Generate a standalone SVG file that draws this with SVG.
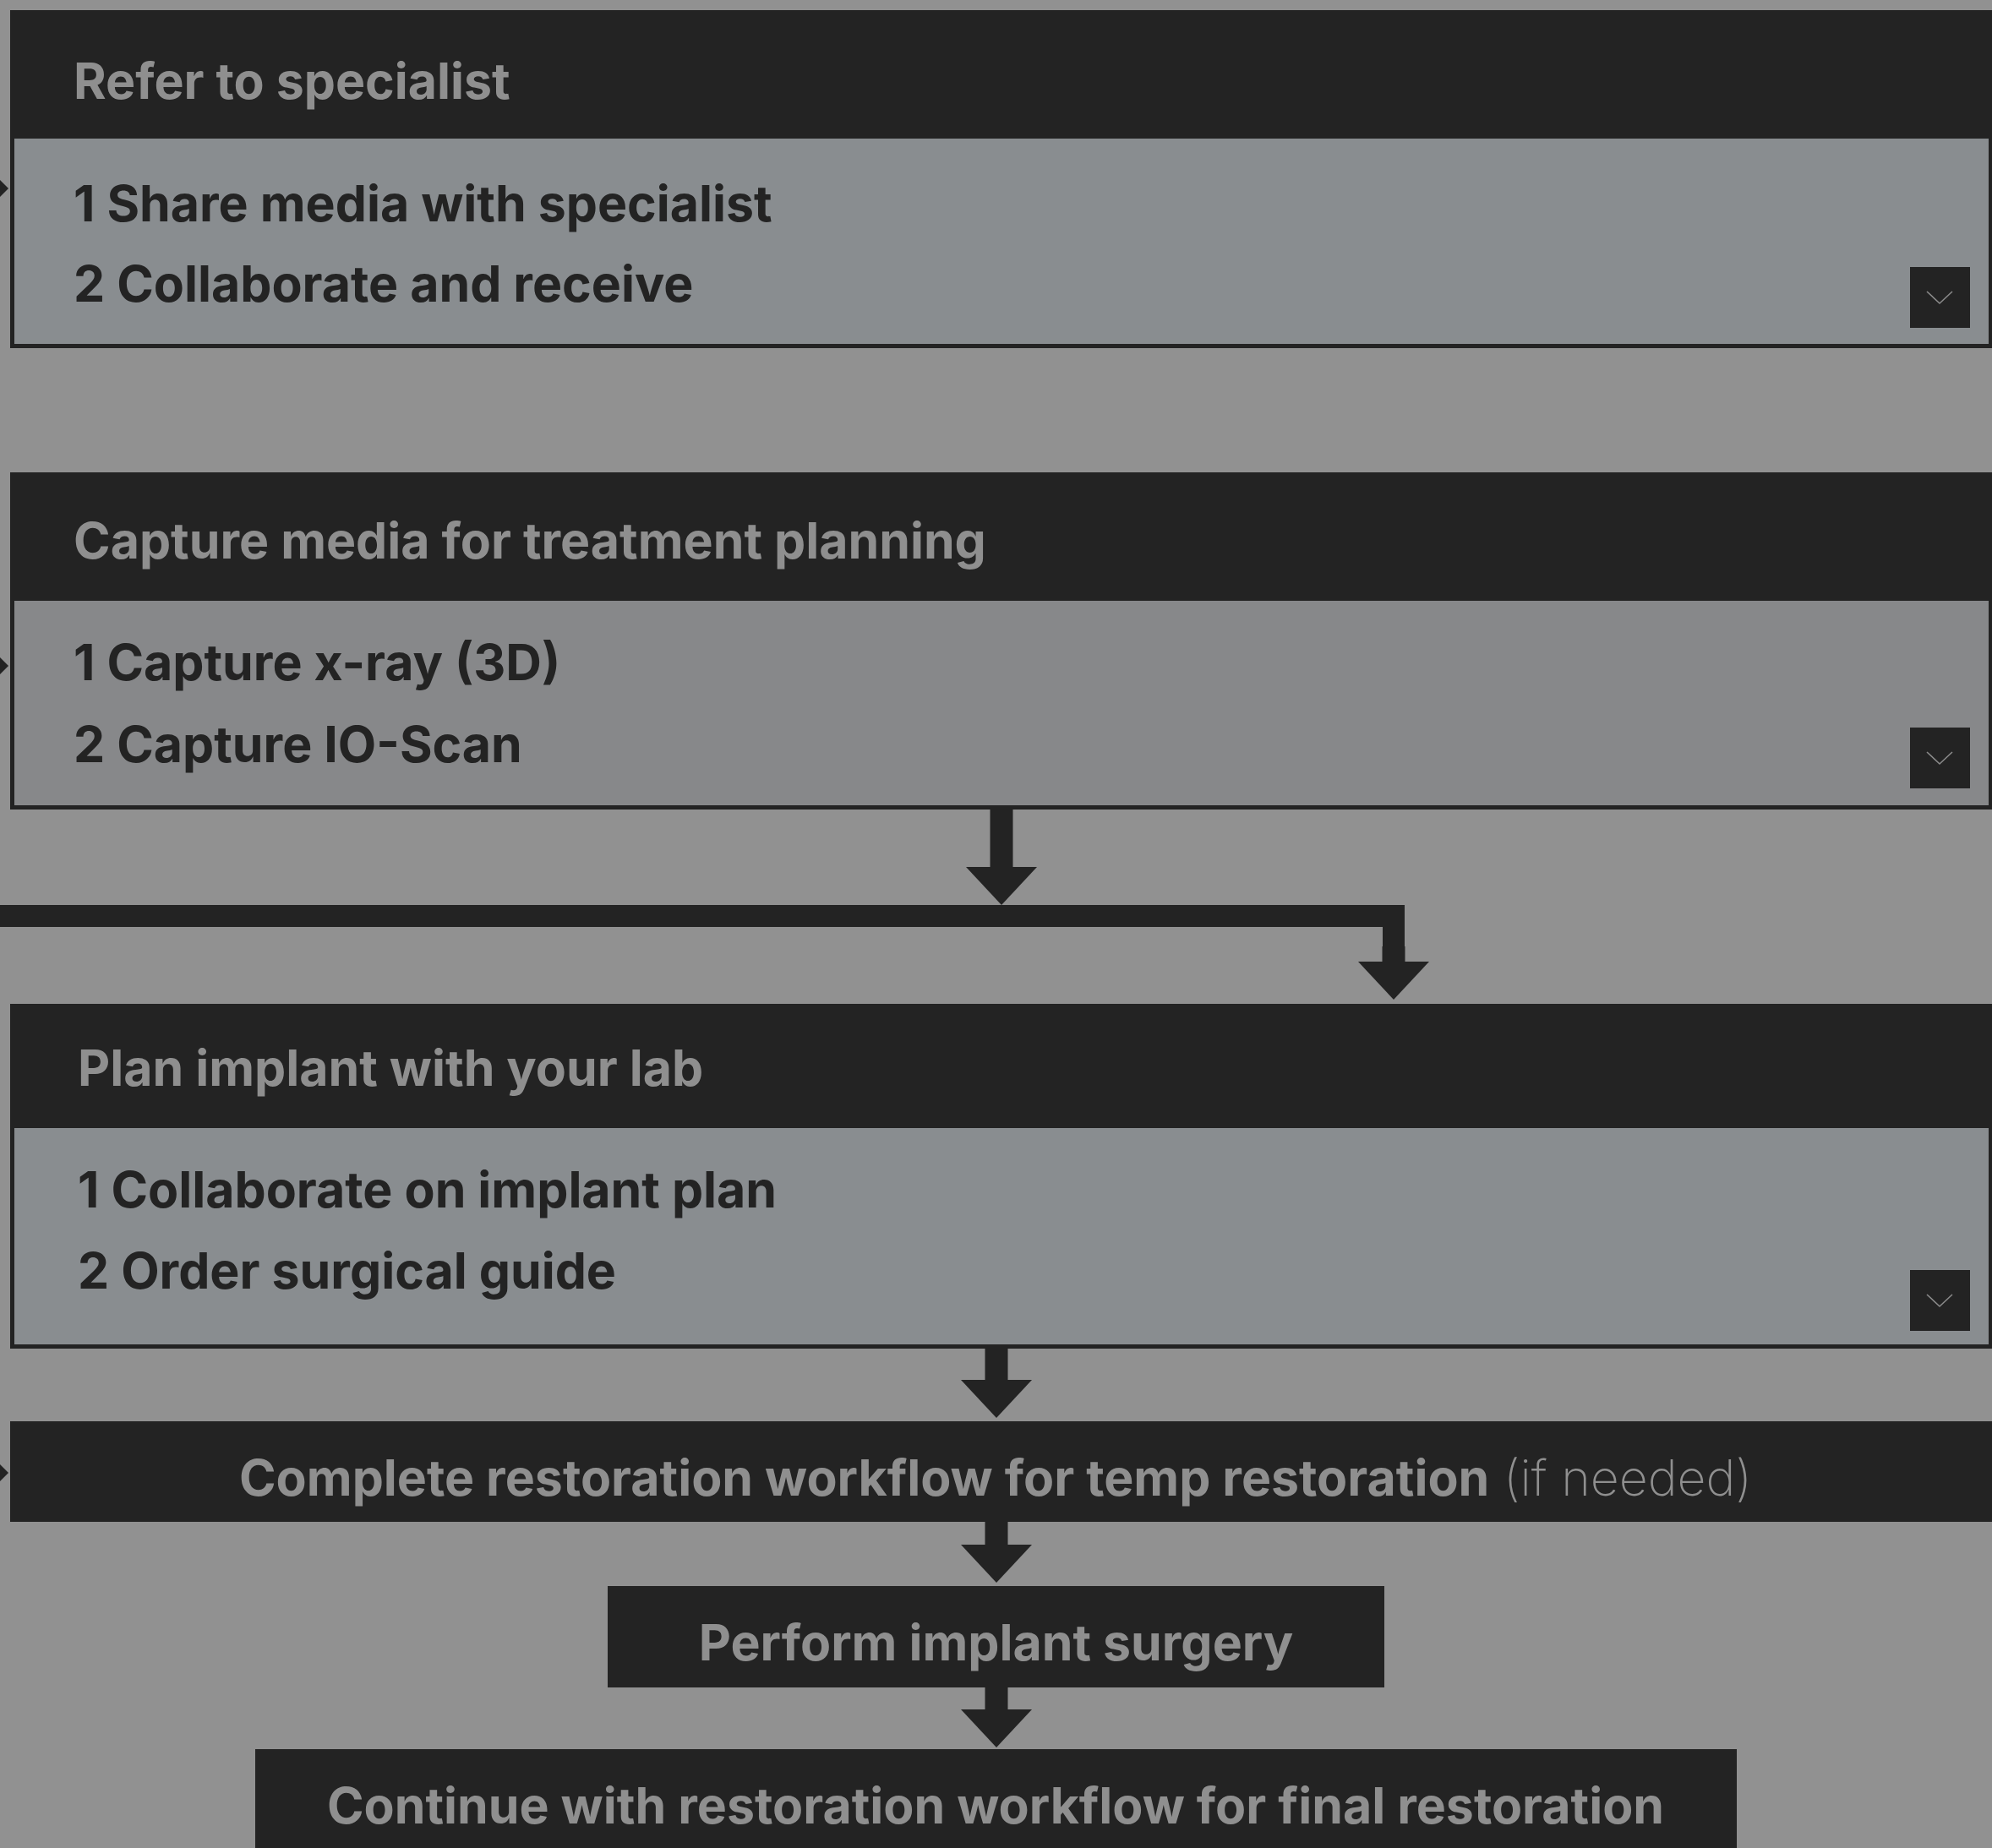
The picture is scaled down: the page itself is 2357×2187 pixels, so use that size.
<svg xmlns="http://www.w3.org/2000/svg" width="2357" height="2187" viewBox="0 0 2357 2187">
<defs>
<style>
.dark{fill:#232323}
.body{fill:#898d90}
.body2{fill:#87888a}
.hdr{font-family:Inter,"Liberation Sans",sans-serif;font-weight:700;font-size:59px;fill:#8f8f8f}
.item{font-family:Inter,"Liberation Sans",sans-serif;font-weight:700;font-size:59px;fill:#232323}
.lbl{font-family:Inter,"Liberation Sans",sans-serif;font-weight:700;font-size:59px;fill:#8f8f8f;text-anchor:middle}
.light{font-weight:200}
.chev{fill:none;stroke:#8a8a8a;stroke-width:1.6}
.stem{fill:none;stroke:#232323;stroke-width:27}
.thin{fill:none;stroke:#232323;stroke-width:3}
</style>
<marker id="ah" markerUnits="userSpaceOnUse" viewBox="0 0 45 84" refX="0" refY="42" markerWidth="45" markerHeight="84" orient="auto">
<path d="M0,0 L45,42 L0,84 Z" fill="#232323"/>
</marker>
<marker id="ahs" markerUnits="userSpaceOnUse" viewBox="0 0 10 20" refX="0" refY="10" markerWidth="10" markerHeight="20" orient="auto">
<path d="M0,0 L10,10 L0,20 Z" fill="#232323"/>
</marker>
</defs>
<rect x="0" y="0" width="2357" height="2187" fill="#919191"/>

<g id="connectors">
<path class="stem" d="M1185,958 V1026" marker-end="url(#ah)"/>
<path class="dark" d="M-10,1071 H1662 V1139 H1636 V1097 H-10 Z"/>
<path class="stem" d="M1649,1120 V1138" marker-end="url(#ah)"/>
<path class="stem" d="M1179,1596 V1633" marker-end="url(#ah)"/>
<path class="stem" d="M1179,1801 V1828" marker-end="url(#ah)"/>
<path class="stem" d="M1179,1997 V2023" marker-end="url(#ah)"/>
<path class="thin" d="M-20,223 H0" marker-end="url(#ahs)"/>
<path class="thin" d="M-20,788 H0" marker-end="url(#ahs)"/>
<path class="thin" d="M-20,1743 H0" marker-end="url(#ahs)"/>
</g>

<g id="refer-to-specialist">
<rect class="dark" x="12" y="12" width="2350" height="400"/>
<rect class="body" x="17" y="164" width="2336" height="243"/>
<text class="hdr" x="87" y="117">Refer to specialist</text>
<text class="item" x="87" y="262">1 Share media with specialist</text>
<text class="item" x="87" y="357">2 Collaborate and receive</text>
<rect class="dark" x="2260" y="316" width="71" height="72"/>
<polyline class="chev" points="2280,345 2295,359 2310,345"/>
</g>

<g id="capture-media">
<rect class="dark" x="12" y="559" width="2350" height="399"/>
<rect class="body2" x="17" y="711" width="2336" height="242"/>
<text class="hdr" x="87" y="661">Capture media for treatment planning</text>
<text class="item" x="87" y="805">1 Capture x-ray (3D)</text>
<text class="item" x="87" y="902">2 Capture IO-Scan</text>
<rect class="dark" x="2260" y="861" width="71" height="72"/>
<polyline class="chev" points="2280,890 2295,904 2310,890"/>
</g>

<g id="plan-implant">
<rect class="dark" x="12" y="1188" width="2350" height="408"/>
<rect class="body" x="17" y="1335" width="2336" height="256"/>
<text class="hdr" x="92" y="1285">Plan implant with your lab</text>
<text class="item" x="92" y="1429">1 Collaborate on implant plan</text>
<text class="item" x="92" y="1525">2 Order surgical guide</text>
<rect class="dark" x="2260" y="1503" width="71" height="72"/>
<polyline class="chev" points="2280,1532 2295,1546 2310,1532"/>
</g>

<g id="complete-restoration">
<rect class="dark" x="12" y="1682" width="2350" height="119"/>
<text class="lbl" x="1178" y="1770">Complete restoration workflow for temp restoration<tspan class="light"> (if needed)</tspan></text>
</g>

<g id="perform-surgery">
<rect class="dark" x="719" y="1877" width="919" height="120"/>
<text class="lbl" x="1178.5" y="1965">Perform implant surgery</text>
</g>

<g id="continue-restoration">
<rect class="dark" x="302" y="2070" width="1753" height="130"/>
<text class="lbl" x="1178" y="2158">Continue with restoration workflow for final restoration</text>
</g>
</svg>
